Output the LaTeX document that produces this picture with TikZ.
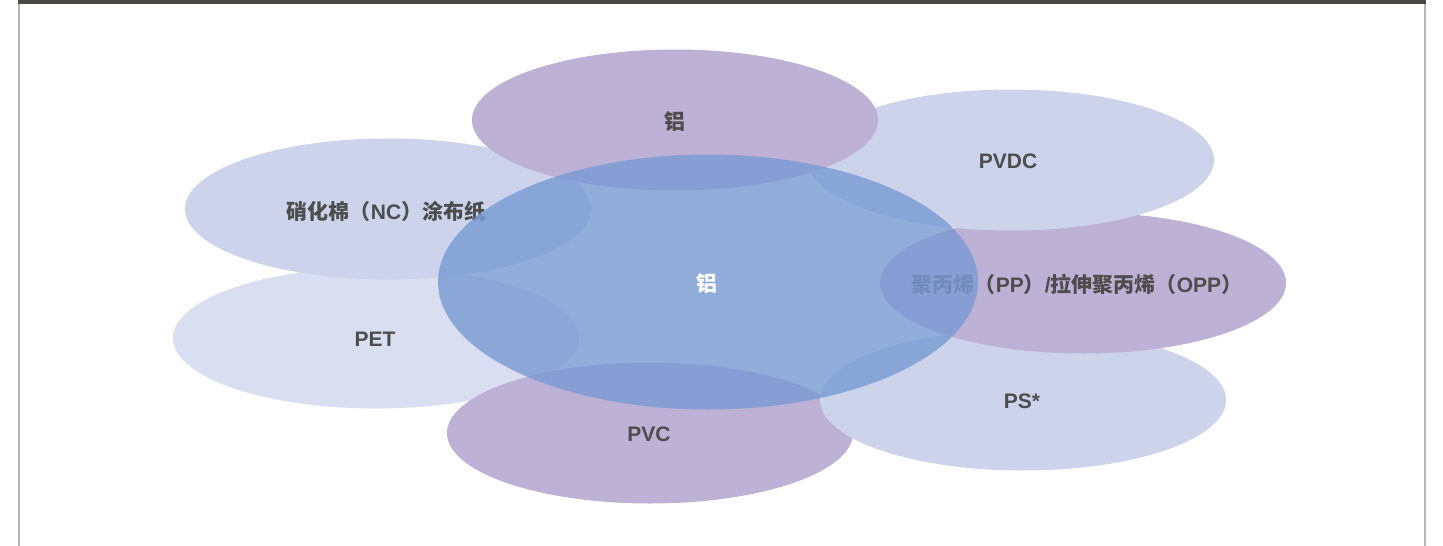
\documentclass[tikz,border=0pt]{standalone}
\usepackage{fontspec}
\setmainfont{Liberation Sans}
\newfontfamily\cjk{Noto Sans CJK SC}
\usetikzlibrary{shapes.geometric}
\definecolor{lblue}{HTML}{CCD3EB}
\definecolor{pblue}{HTML}{D9DFF1}
\definecolor{lpurple}{HTML}{BDB1D5}
\definecolor{cblue}{HTML}{7A9BD3}
\definecolor{txt}{HTML}{4D4D4D}
\definecolor{bar}{HTML}{4B4745}
\definecolor{side}{HTML}{B5B5B5}
\tikzset{
  blob/.style={ellipse, inner sep=0pt, minimum width=406pt, minimum height=141pt},
  blueblob/.style={blob, fill=lblue},
  petblob/.style={blob, fill=pblue},
  purpleblob/.style={blob, fill=lpurple},
  centerblob/.style={ellipse, inner sep=0pt, minimum width=540pt, minimum height=255pt, fill=cblue, fill opacity=0.82},
  lbl/.style={inner sep=0pt, font=\bfseries\fontsize{21pt}{25pt}\selectfont, text=txt}
}
\begin{document}
\begin{tikzpicture}[x=1pt,y=-1pt]
\useasboundingbox (0,0) rectangle (1443,546);
\fill[white] (0,0) rectangle (1443,546);
% frame
\fill[side] (17.5,0) rectangle (19.5,546);
\fill[side] (1423.5,0) rectangle (1425.5,546);
\fill[bar] (17.5,0) rectangle (1425.5,3.5);
% outer ellipses
\node[petblob] (pet) at (376,338) {};
\node[lbl] (pett) at (375,339) {PET};
\node[blueblob] (nc) at (388,209) {};
\node[lbl] (nct) at (386,211) {{\cjk 硝化棉（}NC{\cjk ）涂布纸}};
\node[purpleblob] (pvc) at (650,433) {};
\node[lbl] (pvct) at (649,434) {PVC};
\node[blueblob] (ps) at (1023,400) {};
\node[lbl] (pst) at (1022,401) {PS*};
\node[purpleblob] (pp) at (1083,283) {};
\node[lbl] (ppt) at (1077,284) {{\cjk 聚丙烯（}PP{\cjk ）}/{\cjk 拉伸聚丙烯（}OPP{\cjk ）}};
\node[blueblob] (pvdc) at (1011,160) {};
\node[lbl] (pvdct) at (1008,161) {PVDC};
\node[purpleblob] (top) at (675,120) {};
\node[lbl] (topt) at (675,122) {{\cjk 铝}};
% center
\node[centerblob] (center) at (708,282) {};
\node[lbl, text=white] (centert) at (707,284) {{\cjk 铝}};
\end{tikzpicture}
\end{document}
